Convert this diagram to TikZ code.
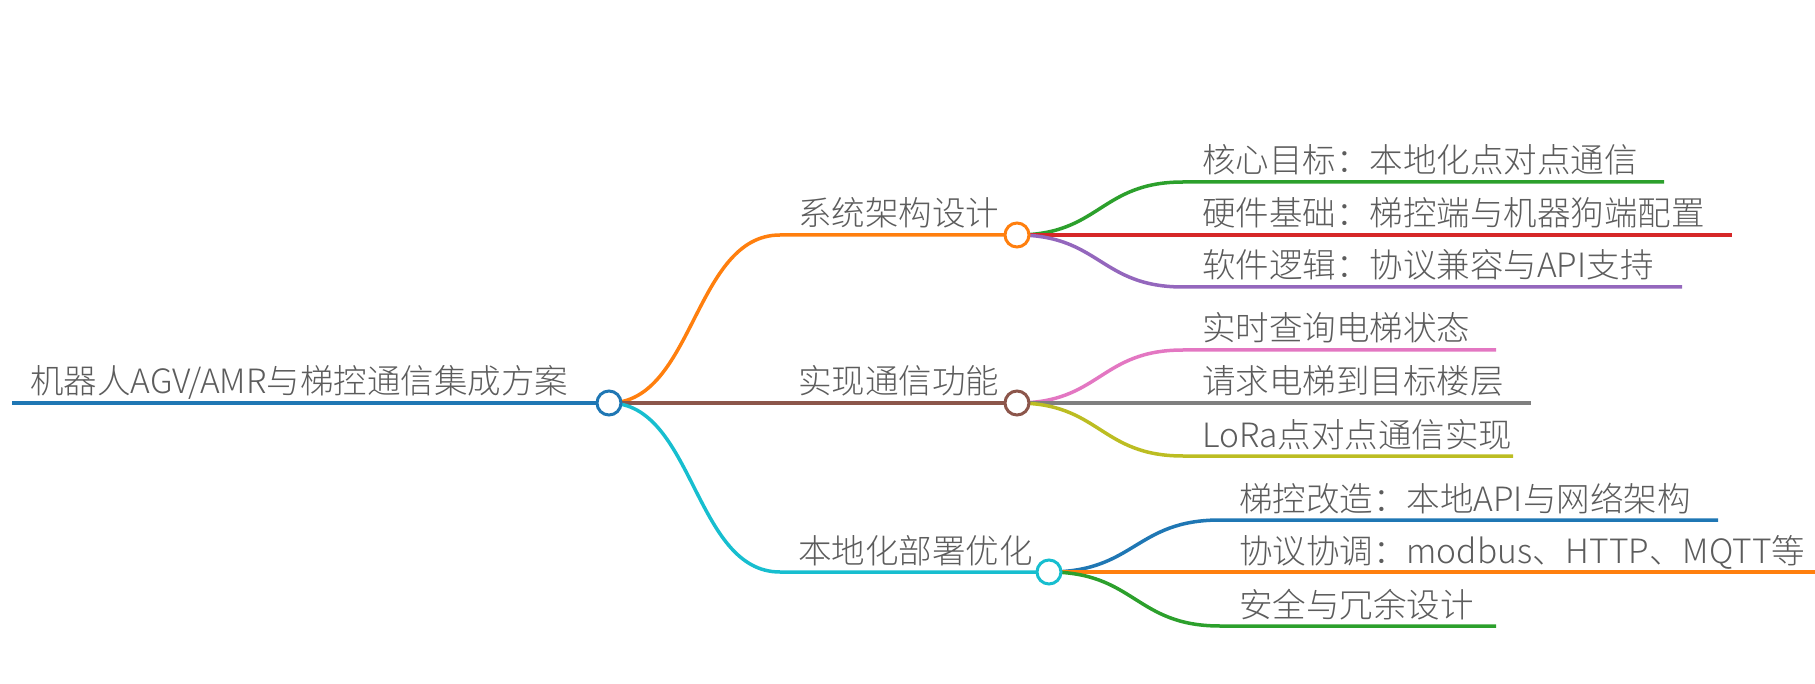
\documentclass[tikz,border=0pt]{standalone}
\usepackage{fontspec}
\setmainfont{Noto Sans CJK SC}[UprightFont=* Light]
\definecolor{mmblue}{HTML}{1F77B4}
\definecolor{mmorange}{HTML}{FF7F0E}
\definecolor{mmgreen}{HTML}{2CA02C}
\definecolor{mmred}{HTML}{D62728}
\definecolor{mmpurple}{HTML}{9467BD}
\definecolor{mmbrown}{HTML}{8C564B}
\definecolor{mmpink}{HTML}{E377C2}
\definecolor{mmgray}{HTML}{7F7F7F}
\definecolor{mmolive}{HTML}{BCBD22}
\definecolor{mmcyan}{HTML}{17BECF}
\definecolor{mmtext}{HTML}{5C5C5C}
\tikzset{
  label text/.style={anchor=base west, inner sep=0pt, text=mmtext, font=\fontsize{33.5}{40}\selectfont},
  knot/.style={circle, draw=#1, fill=white, line width=3pt, minimum size=24pt, inner sep=0pt},
  link/.style={line width=3.5pt, draw=#1},
}
\begin{document}
\begin{tikzpicture}[x=1pt,y=-1pt]
  \useasboundingbox (0,0) rectangle (1815,684);
  % root
  \coordinate (rootstart) at (12,403);
  \coordinate (rootc) at (609,403);
  \node[label text] (roottext) at (30,394) {机器人AGV/AMR与梯控通信集成方案};
  \draw[link=mmblue, line width=4pt] (rootstart) -- (rootc);
  % branches
  \coordinate (sysc) at (1017,235);
  \coordinate (implc) at (1017,403);
  \coordinate (depc) at (1049,572);
  \coordinate (sysstart) at (780,235);
  \coordinate (depstart) at (780,572);
  \draw[link=mmorange] (rootc) .. controls (694,403) and (694,235) .. (sysstart) -- (sysc);
  \draw[link=mmbrown] (rootc) -- (implc);
  \draw[link=mmcyan] (rootc) .. controls (694,403) and (694,572) .. (depstart) -- (depc);
  \node[label text] (systext) at (798,226) {系统架构设计};
  \node[label text] (impltext) at (798,394) {实现通信功能};
  \node[label text] (deptext) at (798,563) {本地化部署优化};
  % leaves of sys
  \draw[link=mmgreen] (sysc) .. controls (1100,235) and (1100,182) .. (1183,182) -- (1664,182);
  \draw[link=mmred] (sysc) -- (1732,235);
  \draw[link=mmpurple] (sysc) .. controls (1100,235) and (1100,287) .. (1183,287) -- (1682,287);
  \node[label text] (goaltext) at (1202,173) {核心目标：本地化点对点通信};
  \node[label text] (hwtext) at (1202,226) {硬件基础：梯控端与机器狗端配置};
  \node[label text] (swtext) at (1202,278) {软件逻辑：协议兼容与API支持};
  % leaves of impl
  \draw[link=mmpink] (implc) .. controls (1100,403) and (1100,350) .. (1183,350) -- (1496,350);
  \draw[link=mmgray] (implc) -- (1531,403);
  \draw[link=mmolive] (implc) .. controls (1100,403) and (1100,456) .. (1183,456) -- (1513,456);
  \node[label text] (querytext) at (1202,341) {实时查询电梯状态};
  \node[label text] (calltext) at (1202,394) {请求电梯到目标楼层};
  \node[label text] (loratext) at (1202,447) {LoRa点对点通信实现};
  % leaves of dep
  \draw[link=mmblue] (depc) .. controls (1135,572) and (1135,520) .. (1220,520) -- (1718,520);
  \draw[link=mmorange] (depc) -- (1815,572);
  \draw[link=mmgreen] (depc) .. controls (1135,572) and (1135,626) .. (1220,626) -- (1496,626);
  \node[label text] (apitext) at (1239,511) {梯控改造：本地API与网络架构};
  \node[label text] (prototext) at (1239,563) {协议协调：modbus、HTTP、MQTT等};
  \node[label text] (safetext) at (1239,617) {安全与冗余设计};
  % knots
  \node[knot=mmblue] (root) at (rootc) {};
  \node[knot=mmorange] (sys) at (sysc) {};
  \node[knot=mmbrown] (impl) at (implc) {};
  \node[knot=mmcyan] (dep) at (depc) {};
\end{tikzpicture}
\end{document}
